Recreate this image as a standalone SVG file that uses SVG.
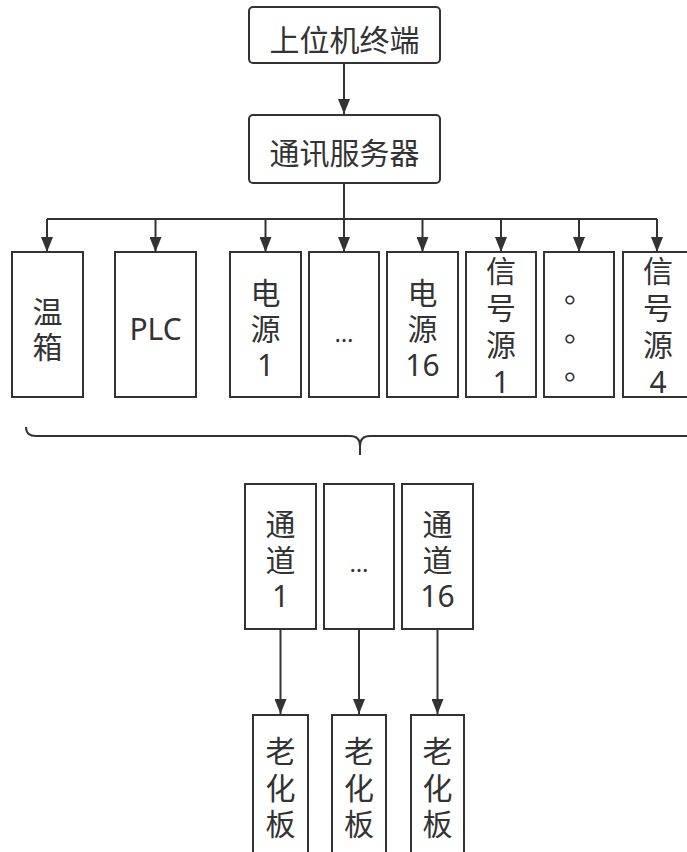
<svg xmlns="http://www.w3.org/2000/svg" width="687" height="852" viewBox="0 0 687 852">
<style>
.box{fill:#fff;stroke:#333;stroke-width:2}
.t{font-family:"Noto Sans","Noto Sans CJK SC",sans-serif;font-size:30px;fill:#333;text-anchor:middle;dominant-baseline:central}
.e{font-family:"Noto Sans","Noto Sans CJK SC",sans-serif;font-size:24px;fill:#333;text-anchor:middle;dominant-baseline:central}
.c{fill:none;stroke:#333;stroke-width:2}
</style>
<defs>
<marker id="ah" markerWidth="15" markerHeight="12" refX="15" refY="6" orient="auto" markerUnits="userSpaceOnUse" viewBox="0 0 15 12">
<path d="M0,0 L15,6 L0,12 z" fill="#333"/>
</marker>
</defs>
<rect width="687" height="852" fill="#fff"/>
<g id="connectors">
<line class="c" x1="344" y1="63" x2="344" y2="114" marker-end="url(#ah)"/>
<polyline class="c" points="344,183 344,219"/>
<line class="c" x1="47" y1="219" x2="657" y2="219"/>
<line class="c" x1="47" y1="219" x2="47" y2="252" marker-end="url(#ah)"/>
<line class="c" x1="155.5" y1="219" x2="155.5" y2="252" marker-end="url(#ah)"/>
<line class="c" x1="265.5" y1="219" x2="265.5" y2="252" marker-end="url(#ah)"/>
<line class="c" x1="344" y1="219" x2="344" y2="252" marker-end="url(#ah)"/>
<line class="c" x1="422.5" y1="219" x2="422.5" y2="252" marker-end="url(#ah)"/>
<line class="c" x1="501" y1="219" x2="501" y2="252" marker-end="url(#ah)"/>
<line class="c" x1="579" y1="219" x2="579" y2="252" marker-end="url(#ah)"/>
<line class="c" x1="657" y1="219" x2="657" y2="252" marker-end="url(#ah)"/>
<path class="c" d="M26,427 Q26,436 36,436 L350,436 Q360,436 360,446 L360,455 M360,446 Q360,436 370,436 L690,436"/>
<line class="c" x1="280.5" y1="629" x2="280.5" y2="714" marker-end="url(#ah)"/>
<line class="c" x1="359" y1="629" x2="359" y2="714" marker-end="url(#ah)"/>
<line class="c" x1="437.5" y1="629" x2="437.5" y2="714" marker-end="url(#ah)"/>
</g>
<g id="terminal"><rect class="box" x="249" y="7" width="191" height="56" rx="4"/><text class="t" x="344.5" y="39">上位机终端</text></g>
<g id="server"><rect class="box" x="249" y="115" width="191" height="68" rx="4"/><text class="t" x="344.5" y="152">通讯服务器</text></g>
<g id="oven"><rect class="box" x="12" y="252" width="71" height="145"/><text class="t" x="47.5" y="311">温<tspan x="47.5" dy="35">箱</tspan></text></g>
<g id="plc"><rect class="box" x="115" y="252" width="81" height="145"/><text class="t" x="155.5" y="328">PLC</text></g>
<g id="power1"><rect class="box" x="230" y="252" width="71" height="145"/><text class="t" x="265.5" y="292">电<tspan x="265.5" dy="36">源</tspan><tspan x="265.5" dy="36">1</tspan></text></g>
<g id="power-etc"><rect class="box" x="309" y="252" width="70" height="145"/><text class="e" x="344" y="332">…</text></g>
<g id="power16"><rect class="box" x="387" y="252" width="71" height="145"/><text class="t" x="422.5" y="292">电<tspan x="422.5" dy="36">源</tspan><tspan x="422.5" dy="36">16</tspan></text></g>
<g id="signal1"><rect class="box" x="466" y="252" width="70" height="145"/><text class="t" x="501" y="270">信<tspan x="501" dy="37">号</tspan><tspan x="501" dy="37">源</tspan><tspan x="501" dy="37">1</tspan></text></g>
<g id="signal-etc"><rect class="box" x="544" y="252" width="70" height="145"/><text class="t" x="579" y="290">。<tspan x="579" dy="39">。</tspan><tspan x="579" dy="38">。</tspan></text></g>
<g id="signal4"><rect class="box" x="623" y="252" width="70" height="145"/><text class="t" x="658" y="270">信<tspan x="658" dy="37">号</tspan><tspan x="658" dy="37">源</tspan><tspan x="658" dy="37">4</tspan></text></g>
<g id="ch1"><rect class="box" x="245" y="484" width="71" height="145"/><text class="t" x="280.5" y="523">通<tspan x="280.5" dy="36">道</tspan><tspan x="280.5" dy="36">1</tspan></text></g>
<g id="ch-etc"><rect class="box" x="324" y="484" width="70" height="145"/><text class="e" x="359" y="562">…</text></g>
<g id="ch16"><rect class="box" x="402" y="484" width="71" height="145"/><text class="t" x="437.5" y="523">通<tspan x="437.5" dy="36">道</tspan><tspan x="437.5" dy="36">16</tspan></text></g>
<g id="board1"><rect class="box" x="253" y="715" width="55" height="145"/><text class="t" x="280.5" y="750">老<tspan x="280.5" dy="37">化</tspan><tspan x="280.5" dy="36">板</tspan></text></g>
<g id="board2"><rect class="box" x="332" y="715" width="54" height="145"/><text class="t" x="359" y="750">老<tspan x="359" dy="37">化</tspan><tspan x="359" dy="36">板</tspan></text></g>
<g id="board3"><rect class="box" x="411" y="715" width="53" height="145"/><text class="t" x="437.5" y="750">老<tspan x="437.5" dy="37">化</tspan><tspan x="437.5" dy="36">板</tspan></text></g>
</svg>
